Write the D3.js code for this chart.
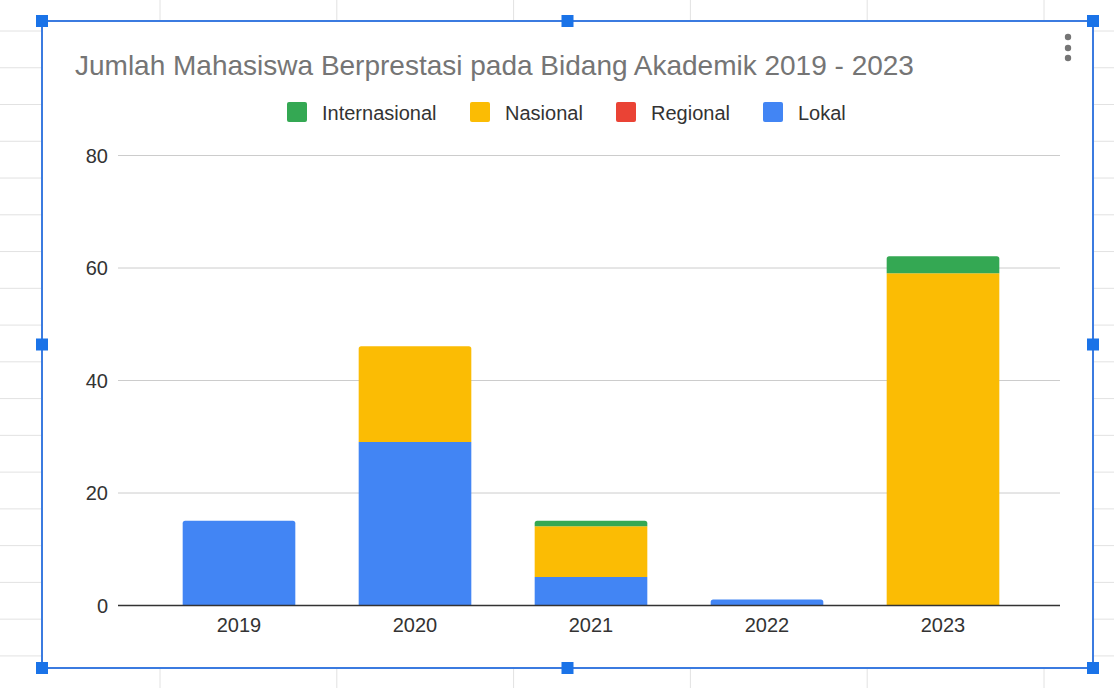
<!DOCTYPE html>
<html>
<head>
<meta charset="utf-8">
<script src="https://cdn.jsdelivr.net/npm/d3@7"></script>
<style>
  body { margin: 0; background: #fff; }
  svg { display: block; font-family: "Liberation Sans", Arial, sans-serif; }
</style>
</head>
<body>
<svg id="chart" width="1114" height="688"></svg>
<script>
// data
var years = ["2019", "2020", "2021", "2022", "2023"];
var seriesNames = ["Lokal", "Regional", "Nasional", "Internasional"];
var lokal = [15, 29, 5, 1, 0];
var regional = [0, 0, 0, 0, 0];
var nasional = [0, 17, 9, 0, 59];
var internasional = [0, 0, 1, 0, 3];
var legendOrder = ["Internasional", "Nasional", "Regional", "Lokal"];
var yTicks = [0, 20, 40, 60, 80];
var title = "Jumlah Mahasiswa Berprestasi pada Bidang Akademik 2019 - 2023";

var colors = {
  "Internasional": "#34a853",
  "Nasional": "#fbbc04",
  "Regional": "#ea4335",
  "Lokal": "#4285f4"
};

var rows = years.map(function(y, i) {
  return {
    "year": y,
    "Lokal": lokal[i],
    "Regional": regional[i],
    "Nasional": nasional[i],
    "Internasional": internasional[i]
  };
});

var svg = d3.select("#chart");

// spreadsheet grid behind the chart
var sheet = svg.append("g").attr("id", "sheet");
sheet.selectAll("line.row")
  .data(d3.range(0, 18))
  .enter().append("line")
  .attr("x1", 0).attr("x2", 1114)
  .attr("y1", function(d) { return 31 + d * 36.76; })
  .attr("y2", function(d) { return 31 + d * 36.76; })
  .attr("stroke", "#e2e2e2").attr("stroke-width", 1);
sheet.selectAll("line.col")
  .data(d3.range(0, 6))
  .enter().append("line")
  .attr("y1", 0).attr("y2", 688)
  .attr("x1", function(d) { return 160 + d * 176.8; })
  .attr("x2", function(d) { return 160 + d * 176.8; })
  .attr("stroke", "#e2e2e2").attr("stroke-width", 1);

// chart box
var box = { x: 42, y: 21, w: 1051, h: 647 };
svg.append("rect")
  .attr("x", box.x).attr("y", box.y)
  .attr("width", box.w).attr("height", box.h)
  .attr("fill", "#fff");

var scale = {
  "x": d3.scaleBand().domain(years).range([151, 1031]).paddingInner(0.36).paddingOuter(0.18),
  "y": d3.scaleLinear().domain([0, 80]).range([605, 155])
};

// gridlines
svg.append("g")
  .selectAll("line")
  .data(yTicks.slice(1))
  .enter().append("line")
  .attr("x1", 118).attr("x2", 1060)
  .attr("y1", function(d) { return scale.y(d) + 0.5; })
  .attr("y2", function(d) { return scale.y(d) + 0.5; })
  .attr("stroke", "#cccccc");

// y tick labels
svg.append("g")
  .selectAll("text")
  .data(yTicks)
  .enter().append("text")
  .attr("x", 108)
  .attr("y", function(d) { return scale.y(d) + 7.5; })
  .attr("text-anchor", "end")
  .attr("font-size", 20)
  .attr("fill", "#333")
  .text(function(d) { return d; });

// stacked bars
var stack = d3.stack().keys(seriesNames)(rows);
var topKey = rows.map(function(r) {
  var k = null;
  seriesNames.forEach(function(s) { if (r[s] > 0) k = s; });
  return k;
});

var layers = svg.append("g").attr("id", "bars")
  .selectAll("g")
  .data(stack)
  .enter().append("g")
  .attr("fill", function(d) { return colors[d.key]; });

layers.each(function(layer) {
  d3.select(this).selectAll("path")
    .data(layer.filter(function(d) { return d[1] - d[0] > 0; }))
    .enter().append("path")
    .attr("d", function(d) {
      var x0 = scale.x(d.data.year), w = scale.x.bandwidth();
      var y0 = scale.y(d[0]), y1 = scale.y(d[1]);
      var r = topKey[years.indexOf(d.data.year)] === layer.key ? 2.5 : 0;
      r = Math.min(r, (y0 - y1) / 2);
      return "M" + x0 + "," + y0 +
        "V" + (y1 + r) +
        "Q" + x0 + "," + y1 + " " + (x0 + r) + "," + y1 +
        "H" + (x0 + w - r) +
        "Q" + (x0 + w) + "," + y1 + " " + (x0 + w) + "," + (y1 + r) +
        "V" + y0 + "Z";
    });
});

// baseline
svg.append("line")
  .attr("x1", 118).attr("x2", 1060)
  .attr("y1", scale.y(0) + 0.5).attr("y2", scale.y(0) + 0.5)
  .attr("stroke", "#333").attr("stroke-width", 1.3);

// x labels
svg.append("g")
  .selectAll("text")
  .data(years)
  .enter().append("text")
  .attr("x", function(d) { return scale.x(d) + scale.x.bandwidth() / 2; })
  .attr("y", 632)
  .attr("text-anchor", "middle")
  .attr("font-size", 20)
  .attr("fill", "#333")
  .text(function(d) { return d; });

// title
svg.append("text")
  .attr("x", 75).attr("y", 75)
  .attr("font-size", 28)
  .attr("fill", "#757575")
  .text(title);

// legend
var legendX = [287, 470, 616, 763];
var legend = svg.append("g").attr("id", "legend")
  .selectAll("g")
  .data(legendOrder)
  .enter().append("g")
  .attr("transform", function(d, i) { return "translate(" + legendX[i] + ",102)"; });
legend.append("rect")
  .attr("width", 20).attr("height", 20).attr("rx", 2)
  .attr("fill", function(d) { return colors[d]; });
legend.append("text")
  .attr("x", 35).attr("y", 18)
  .attr("font-size", 20)
  .attr("fill", "#333")
  .text(function(d) { return d; });

// kebab menu
svg.append("g")
  .selectAll("circle")
  .data([37, 48, 58])
  .enter().append("circle")
  .attr("cx", 1068).attr("cy", function(d) { return d; })
  .attr("r", 3.2).attr("fill", "#757575");

// selection border and handles
svg.append("rect")
  .attr("x", box.x).attr("y", box.y)
  .attr("width", box.w).attr("height", box.h)
  .attr("fill", "none").attr("stroke", "#3b7be0").attr("stroke-width", 2);

var handles = [
  [box.x, box.y], [box.x + box.w / 2, box.y], [box.x + box.w, box.y],
  [box.x, box.y + box.h / 2], [box.x + box.w, box.y + box.h / 2],
  [box.x, box.y + box.h], [box.x + box.w / 2, box.y + box.h], [box.x + box.w, box.y + box.h]
];
svg.append("g")
  .selectAll("rect")
  .data(handles)
  .enter().append("rect")
  .attr("x", function(d) { return d[0] - 6; })
  .attr("y", function(d) { return d[1] - 6; })
  .attr("width", 12).attr("height", 12)
  .attr("fill", "#1a73e8");
</script>
</body>
</html>
